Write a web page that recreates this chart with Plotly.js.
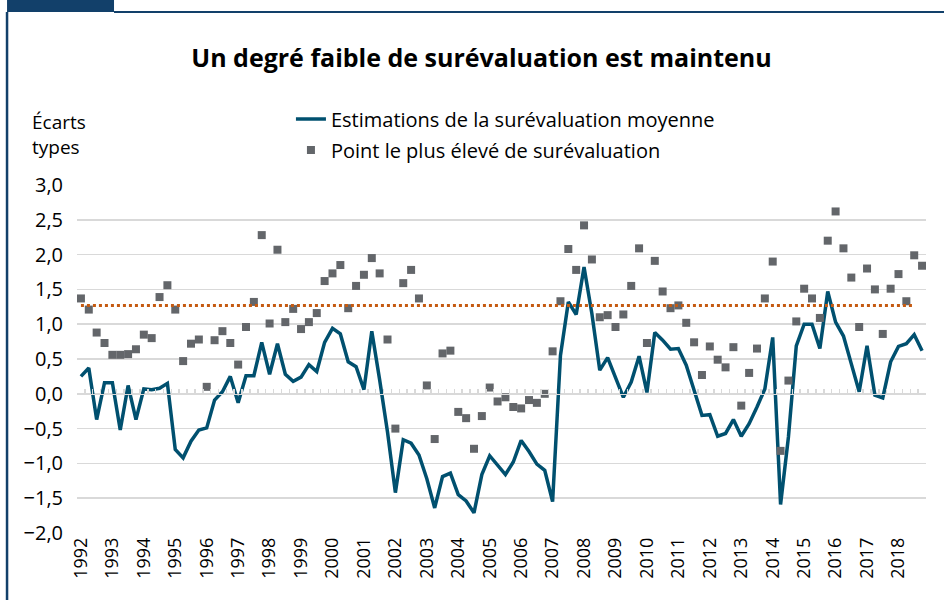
<!DOCTYPE html>
<html>
<head>
<meta charset="utf-8">
<script src="https://cdn.plot.ly/plotly-3.0.1.min.js"></script>
<style>
  html, body { margin: 0; padding: 0; background: #ffffff; }
  #chart { width: 944px; height: 600px; }
</style>
</head>
<body>
<div id="chart"></div>
<script>
// Years covered (quarterly data, 1992 T1 - 2018 T4)
const years = [1992,1993,1994,1995,1996,1997,1998,1999,2000,2001,2002,2003,2004,2005,2006,2007,2008,2009,2010,2011,2012,2013,2014,2015,2016,2017,2018];
const quarters = ['T1','T2','T3','T4'];

// Estimations de la surévaluation moyenne (écarts types)
const moyenne = [
  0.25, 0.37, -0.37, 0.16,   0.16, -0.52, 0.12, -0.37,   0.07, 0.06, 0.08, 0.15,   -0.80, -0.92, -0.68, -0.52,
  -0.49, -0.09, 0.03, 0.25,  -0.13, 0.26, 0.26, 0.74,    0.28, 0.72, 0.28, 0.18,   0.24, 0.42, 0.32, 0.74,
  0.94, 0.86, 0.46, 0.39,    0.06, 0.90, 0.20, -0.55,    -1.42, -0.66, -0.71, -0.88,  -1.22, -1.64, -1.19, -1.14,
  -1.45, -1.54, -1.71, -1.16, -0.89, -1.02, -1.16, -0.98, -0.67, -0.83, -1.01, -1.10, -1.55, 0.55, 1.32, 1.14,
  1.82, 1.15, 0.34, 0.52,    0.24, -0.05, 0.17, 0.54,    0.02, 0.88, 0.77, 0.64,   0.65, 0.41, 0.05, -0.31,
  -0.30, -0.61, -0.57, -0.37, -0.61, -0.43, -0.19, 0.07,  0.81, -1.59, -0.62, 0.69,  1.00, 1.00, 0.65, 1.47,
  1.03, 0.83, 0.43, 0.03,    0.69, -0.02, -0.06, 0.46,   0.68, 0.72, 0.85, 0.62
];

// Point le plus élevé de surévaluation
const maximum = [
  1.37, 1.21, 0.88, 0.73,    0.56, 0.56, 0.57, 0.64,    0.85, 0.80, 1.39, 1.56,   1.21, 0.47, 0.72, 0.78,
  0.10, 0.77, 0.90, 0.73,    0.42, 0.96, 1.32, 2.28,    1.01, 2.07, 1.03, 1.22,   0.93, 1.03, 1.16, 1.62,
  1.73, 1.85, 1.23, 1.55,    1.71, 1.95, 1.73, 0.78,    -0.50, 1.59, 1.78, 1.37,  0.12, -0.65, 0.58, 0.62,
  -0.26, -0.35, -0.79, -0.32, 0.09, -0.11, -0.05, -0.19, -0.21, -0.09, -0.13, 0.00, 0.61, 1.33, 2.08, 1.78,
  2.42, 1.93, 1.10, 1.13,    0.96, 1.14, 1.55, 2.09,    0.73, 1.91, 1.47, 1.23,   1.27, 1.02, 0.74, 0.27,
  0.68, 0.49, 0.38, 0.67,    -0.17, 0.30, 0.65, 1.37,   1.90, -0.82, 0.19, 1.04,  1.51, 1.37, 1.09, 2.20,
  2.62, 2.09, 1.67, 0.96,    1.80, 1.50, 0.86, 1.51,    1.72, 1.33, 1.99, 1.84
];

// Seuil (ligne pointillée)
const seuilValeur = 1.27;
const seuilDebut = 0;     // premier trimestre
const seuilFin = 106;     // avant-dernier trimestre

const yTicks = [-2, -1.5, -1, -0.5, 0, 0.5, 1, 1.5, 2, 2.5, 3];

// Category labels
const trimestres = [];
years.forEach(y => quarters.forEach(q => trimestres.push(y + ' ' + q)));
const yearTickVals = years.map(y => y + ' T1');
const yearTickText = years.map(String);

const FONT = '"Open Sans", "Noto Sans", sans-serif';
const LINE_BLUE = '#00506f';
const SQUARE_GREY = '#63666a';
const DOT_ORANGE = '#c55a11';
const FRAME = '#12406a';
const GRID = '#d9d9d9';

const traces = [
  {
    type: 'scatter', mode: 'lines',
    name: 'Estimations de la surévaluation moyenne',
    x: trimestres, y: moyenne,
    line: { color: LINE_BLUE, width: 3.5 },
    legendgroup: 'a'
  },
  {
    type: 'scatter', mode: 'markers',
    name: 'Point le plus élevé de surévaluation',
    x: trimestres, y: maximum,
    marker: { symbol: 'square', size: 8, color: SQUARE_GREY },
    legendgroup: 'b'
  },
  {
    type: 'scatter', mode: 'lines',
    name: 'Seuil',
    x: [seuilDebut, seuilFin], y: [seuilValeur, seuilValeur],
    xaxis: 'x2',
    line: { color: DOT_ORANGE, width: 3, dash: 'dot' },
    showlegend: false,
    hoverinfo: 'skip'
  }
];

const layout = {
  width: 944, height: 600,
  paper_bgcolor: '#ffffff', plot_bgcolor: '#ffffff',
  font: { family: FONT, color: '#000000', size: 17 },
  separators: ', ',
  margin: { l: 77, r: 18, t: 185, b: 67, pad: 0 },
  title: {
    text: '<b>Un degré faible de surévaluation est maintenu</b>',
    font: { family: FONT, size: 25, color: '#000000' },
    x: 0.4764, xref: 'paper', xanchor: 'center',
    y: 0.903, yref: 'container', yanchor: 'middle'
  },
  showlegend: true,
  legend: {
    x: 0.252, xref: 'paper', xanchor: 'left',
    y: 0.834, yref: 'container', yanchor: 'top',
    orientation: 'v',
    traceorder: 'grouped', tracegroupgap: 2,
    font: { family: FONT, size: 20, color: '#000000' },
    bgcolor: 'rgba(0,0,0,0)'
  },
  xaxis: {
    type: 'category',
    categoryorder: 'array', categoryarray: trimestres,
    range: [-0.5, trimestres.length - 0.5],
    tickmode: 'array', tickvals: yearTickVals, ticktext: yearTickText,
    tickangle: -90,
    tickfont: { family: FONT, size: 18, color: '#000000' },
    ticks: '', showgrid: false, zeroline: false,
    showline: false,
    fixedrange: true
  },
  xaxis2: {
    overlaying: 'x', anchor: 'free', position: 0.4, side: 'bottom',
    type: 'linear',
    range: [-0.5, trimestres.length - 0.5],
    tickmode: 'linear', tick0: -0.5, dtick: 1,
    ticks: 'inside', ticklen: 5, tickwidth: 1.5, tickcolor: GRID,
    showticklabels: false, showgrid: false, zeroline: false,
    showline: true, linecolor: GRID, linewidth: 1.5,
    fixedrange: true
  },
  yaxis: {
    range: [-2, 3],
    tickmode: 'array', tickvals: yTicks,
    tickformat: '.1f',
    tickfont: { family: FONT, size: 20, color: '#000000' },
    showgrid: true, gridcolor: GRID, gridwidth: 1.5,
    zeroline: false, showline: false, ticks: '',
    ticklabelstandoff: 13,
    fixedrange: true
  },
  annotations: [
    {
      text: 'Écarts<br>types', showarrow: false,
      xref: 'paper', yref: 'paper',
      x: -0.0554, y: 1.224, xanchor: 'left', yanchor: 'top', align: 'left',
      font: { family: FONT, size: 19, color: '#000000' }
    }
  ],
  shapes: [
    { type: 'rect', xref: 'paper', yref: 'paper', x0: -0.0824, x1: 0.0436, y0: 1.4971, y1: 1.5316,
      fillcolor: FRAME, line: { width: 0 }, layer: 'below' },
    { type: 'line', xref: 'paper', yref: 'paper', x0: 0.0436, x1: 1.03, y0: 1.4971, y1: 1.4971,
      line: { color: FRAME, width: 2 } },
    { type: 'line', xref: 'paper', yref: 'paper', x0: -0.0824, x1: -0.0824, y0: 1.4971, y1: -0.2,
      line: { color: FRAME, width: 2.5 } }
  ]
};

Plotly.newPlot('chart', traces, layout, { displayModeBar: false, staticPlot: true });
</script>
</body>
</html>
